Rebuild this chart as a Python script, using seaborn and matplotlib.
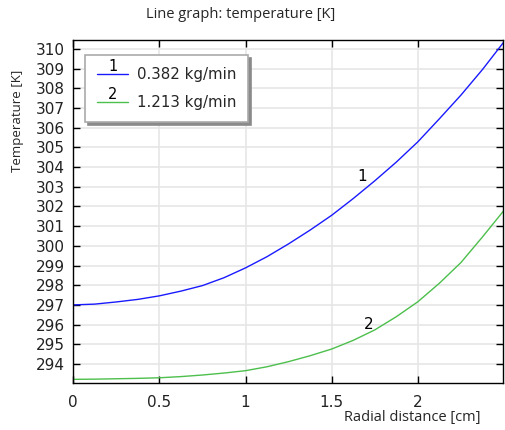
import matplotlib
matplotlib.use("Agg")
import matplotlib.pyplot as plt
import seaborn as sns
import pandas as pd
from matplotlib.legend_handler import HandlerLine2D

radial_cm = [0.0, 0.125, 0.25, 0.375, 0.5, 0.625, 0.75, 0.875, 1.0, 1.125, 1.25,
             1.375, 1.5, 1.625, 1.75, 1.875, 2.0, 2.125, 2.25, 2.375, 2.5]
temp_1 = [297.0, 297.04, 297.15, 297.28, 297.46, 297.70, 297.98, 298.38, 298.88, 299.45, 300.1,
          300.8, 301.55, 302.4, 303.3, 304.25, 305.28, 306.45, 307.65, 308.95, 310.36]
temp_2 = [293.22, 293.23, 293.25, 293.27, 293.30, 293.36, 293.44, 293.54, 293.66, 293.86, 294.12,
          294.42, 294.76, 295.2, 295.73, 296.4, 297.16, 298.1, 299.15, 300.45, 301.8]
series_names = ["0.382 kg/min", "1.213 kg/min"]
series_ids = ["1", "2"]
label_pos = [(1.675, 303.5), (1.713, 296.0)]
yticks = list(range(294, 311))
xticks = [0, 0.5, 1, 1.5, 2]
xtick_labels = ["0", "0.5", "1", "1.5", "2"]

sns.set_theme(style="white")
plt.rcParams["font.family"] = ["DejaVu Sans"]

df = pd.DataFrame({
    "r": radial_cm * 2,
    "T": temp_1 + temp_2,
    "s": [series_names[0]] * len(radial_cm) + [series_names[1]] * len(radial_cm),
})

fig = plt.figure(figsize=(5.05, 4.30), dpi=100)
ax = fig.add_axes([0.145, 0.11, 0.852, 0.797])
colors = ["#1a1aff", "#4cbf4c"]
sns.lineplot(data=df, x="r", y="T", hue="s", palette=colors, ax=ax, linewidth=1.0, legend=False)

ax.set_xlim(0, 2.497)
ax.set_ylim(293.05, 310.45)
ax.set_xticks(xticks)
ax.set_xticklabels(xtick_labels)
ax.set_yticks(yticks)
ax.tick_params(direction="in", length=5, width=1, labelsize=11, colors="black",
               top=True, right=True, bottom=True, left=True)
ax.tick_params(axis="x", pad=8.5, labelcolor="#222222")
ax.tick_params(axis="y", pad=6, labelcolor="#222222")
ax.grid(True, color="#e6e6e6", linewidth=1.2)
for sp in ax.spines.values():
    sp.set_color("black")
    sp.set_linewidth(1)
ax.set_xlabel("")
ax.set_ylabel("")

for sid, (lx, ly) in zip(series_ids, label_pos):
    ax.text(lx, ly, sid, fontsize=11, ha="center", va="center", color="black")


class NumHandler(HandlerLine2D):
    def __init__(self, num, **kw):
        super().__init__(**kw)
        self.num = num

    def create_artists(self, legend, orig_handle, xdescent, ydescent, width, height, fontsize, trans):
        arts = super().create_artists(legend, orig_handle, xdescent, ydescent, width, height, fontsize, trans)
        t = matplotlib.text.Text(width / 2 - xdescent, height * 0.45, self.num, ha="center", va="bottom",
                                 fontsize=10.5, color="black", transform=trans)
        return list(arts) + [t]


handles = ax.get_lines()[:2]
for h, c in zip(handles, colors):
    h.set_color(c)
leg = ax.legend(handles, series_names, loc="upper left", bbox_to_anchor=(0.027, 0.956),
                borderaxespad=0,
                fontsize=10.8, frameon=True, fancybox=False, shadow={"color": "#8a8a8a", "alpha": 1},
                edgecolor="#aaaaaa", framealpha=1, handlelength=2.1, handletextpad=0.55,
                borderpad=0.8, labelspacing=0.85,
                handler_map={handles[0]: NumHandler("1"), handles[1]: NumHandler("2")})
leg.get_frame().set_linewidth(1.2)

fig.text(241 / 505, 1 - 15 / 430, "Line graph: temperature [K]", ha="center", va="center",
         fontsize=10.5, family="Open Sans")
fig.text(18 / 505, 1 - 121 / 430, "Temperature [K]", ha="center", va="center",
         rotation=90, fontsize=9.5, family="Open Sans")
fig.text(480 / 505, 1 - 418 / 430, "Radial distance [cm]", ha="right", va="center",
         fontsize=10.5, family="Open Sans")

fig.savefig("out.png", dpi=100)
